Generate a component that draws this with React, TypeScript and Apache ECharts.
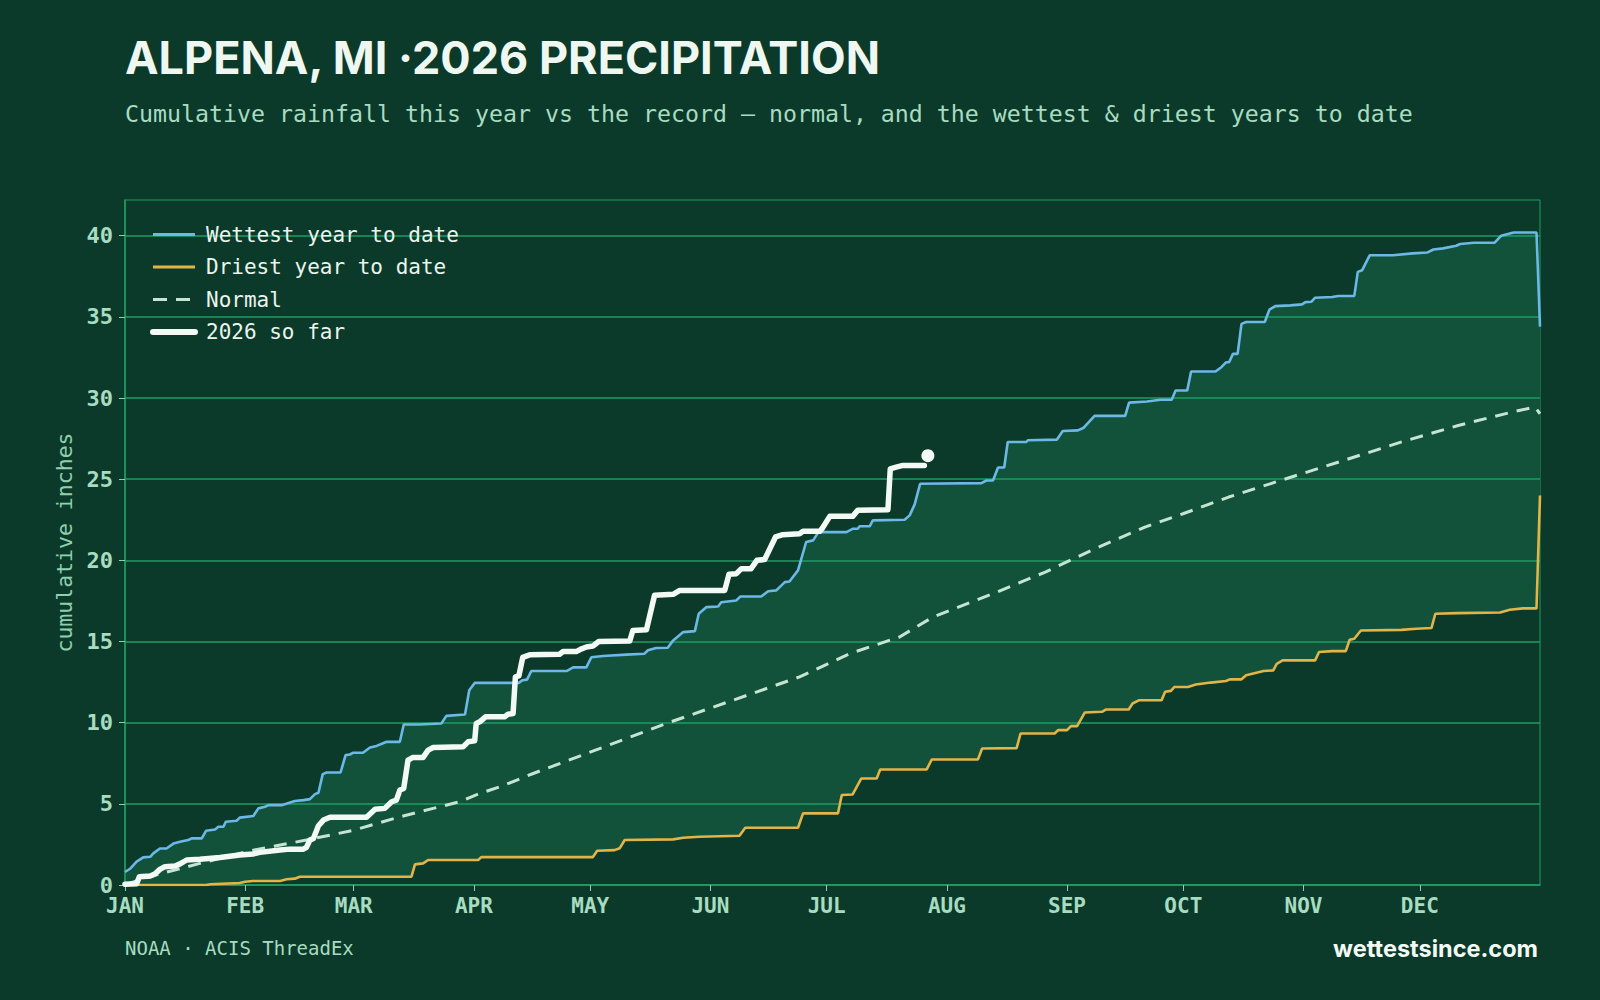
import React, { useEffect, useRef } from "react";
import * as echarts from "echarts";

// ---- data (day of year, cumulative inches) ----
const MONTHS = ["JAN", "FEB", "MAR", "APR", "MAY", "JUN", "JUL", "AUG", "SEP", "OCT", "NOV", "DEC"];
const MONTH_STARTS = [0, 31, 59, 90, 120, 151, 181, 212, 243, 273, 304, 334];
const Y_TICKS = [0, 5, 10, 15, 20, 25, 30, 35, 40];

const WETTEST: number[][] = [
  [0, 0.8], [1.3, 1.0], [3, 1.44], [4.7, 1.7], [6.5, 1.74], [7.3, 1.95], [9, 2.25], [10.7, 2.25], [12.5, 2.55],
  [14.2, 2.66], [16.3, 2.77], [17.2, 2.87], [19.8, 2.87], [20.9, 3.34], [23.2, 3.42], [24.1, 3.59], [25.4, 3.59],
  [26, 3.9], [28.8, 3.96], [29.6, 4.15], [33.1, 4.25], [34.4, 4.72], [36.1, 4.82], [37, 4.92], [40.4, 4.92],
  [43.8, 5.17], [46, 5.23], [47.7, 5.29], [49, 5.6], [49.9, 5.68], [51, 6.83], [52, 6.93], [55.6, 6.93], [56.9, 8.0],
  [58, 8.04], [58.9, 8.15], [61.4, 8.15], [63.2, 8.47], [64.9, 8.57], [66.4, 8.72], [67.5, 8.82], [70.9, 8.82],
  [71.9, 9.89], [76, 9.89], [81.6, 9.95], [82.9, 10.42], [87.7, 10.5], [88.8, 12.0], [90.2, 12.45], [101.6, 12.45],
  [102.5, 12.61], [103.7, 12.65], [104.8, 13.18], [113.9, 13.18], [115.6, 13.41], [119, 13.41], [120.3, 14.03],
  [123.3, 14.11], [129.3, 14.19], [134, 14.25], [134.9, 14.46], [137, 14.6], [140, 14.62], [141.4, 15.07], [144, 15.58],
  [147, 15.64], [148, 16.71], [150, 17.12], [153, 17.16], [153.8, 17.42], [157.7, 17.53], [158.7, 17.77], [164.1, 17.77],
  [165.9, 18.1], [168, 18.15], [170.2, 18.66], [171.4, 18.7], [173.6, 19.38], [175.7, 21.13], [177.5, 21.23],
  [178.7, 21.68], [179.2, 21.74], [186.1, 21.74], [187.8, 21.95], [189, 21.95], [189.5, 22.1], [192.1, 22.1],
  [192.9, 22.46], [201.1, 22.5], [202.4, 22.77], [203.7, 23.45], [205.1, 24.72], [220.9, 24.76], [222.2, 24.92],
  [223.9, 24.92], [225.2, 25.72], [226.8, 25.72], [227.7, 27.29], [232.5, 27.29], [232.9, 27.4], [240.4, 27.44],
  [241.9, 27.97], [245.8, 28.01], [247.3, 28.17], [250.1, 28.9], [258, 28.9], [259, 29.72], [263.6, 29.79],
  [267.1, 29.89], [270, 29.89], [271, 30.46], [274, 30.46], [275, 31.63], [281.3, 31.63], [282.8, 31.9], [284, 32.2],
  [284.8, 32.2], [285.8, 32.72], [287, 32.72], [288, 34.57], [289.2, 34.68], [294, 34.68], [295.2, 35.44],
  [296.7, 35.66], [300.6, 35.71], [303.6, 35.77], [304.5, 35.91], [306, 35.93], [307, 36.18], [311.4, 36.22],
  [312.9, 36.29], [317.1, 36.29], [318, 37.77], [319.1, 37.87], [321.1, 38.8], [327.1, 38.8], [332.1, 38.91],
  [336, 38.97], [337.5, 39.15], [340, 39.22], [343.4, 39.38], [344.4, 39.49], [347.9, 39.57], [353.3, 39.57],
  [355, 40.0], [358.2, 40.2], [364.1, 40.2], [365, 34.4],
];

const DRIEST: number[][] = [
  [0, 0], [21, 0], [22, 0.05], [29.6, 0.12], [31, 0.2], [33, 0.25], [40, 0.25], [41.7, 0.35], [43.8, 0.39],
  [45.1, 0.51], [73.9, 0.51], [74.8, 1.27], [76.9, 1.33], [78.2, 1.54], [91.1, 1.54], [91.9, 1.72], [120.7, 1.72],
  [121.8, 2.11], [126.3, 2.15], [127.6, 2.26], [128.9, 2.77], [141.4, 2.81], [144, 2.91], [148.2, 2.97], [158.5, 3.03],
  [160, 3.53], [173.6, 3.53], [174.9, 4.41], [183.9, 4.41], [184.9, 5.54], [187.7, 5.58], [189.9, 6.56], [193.9, 6.56],
  [194.8, 7.12], [206.8, 7.12], [208.1, 7.73], [220, 7.73], [221.1, 8.41], [230, 8.43], [231, 9.33], [239.8, 9.33],
  [240.7, 9.54], [243, 9.54], [244, 9.79], [245.6, 9.79], [247.6, 10.63], [252, 10.67], [253, 10.81], [258.9, 10.81],
  [259.9, 11.18], [261.5, 11.38], [267.4, 11.38], [268.3, 11.9], [269.8, 11.96], [270.7, 12.2], [274.2, 12.2],
  [276.2, 12.35], [280.1, 12.47], [284, 12.57], [285, 12.67], [288, 12.67], [289.2, 12.92], [293.7, 13.18],
  [296.2, 13.22], [297.1, 13.63], [298.6, 13.84], [307, 13.84], [308, 14.35], [311.4, 14.41], [314.9, 14.41],
  [315.9, 15.11], [317.1, 15.17], [318.8, 15.68], [329.2, 15.72], [333.1, 15.79], [337, 15.83], [338, 16.71],
  [343.9, 16.75], [354.7, 16.79], [357.2, 16.96], [360.6, 17.04], [364.1, 17.04], [365, 24.0],
];

const NORMAL: number[][] = [
  [0, 0], [4.7, 0.41], [19.3, 1.33], [33.1, 2.15], [46.8, 2.77], [59.1, 3.38], [70.9, 4.2], [79.5, 4.72],
  [86.4, 5.13], [91.5, 5.64], [96.7, 6.05], [105.3, 6.87], [122.4, 8.4], [139.6, 9.95], [156.8, 11.38],
  [174, 12.82], [186.9, 14.25], [199.8, 15.28], [208.4, 16.51], [223.9, 17.95], [237.4, 19.28], [250.2, 20.72],
  [263.1, 22.05], [272.9, 22.87], [284.7, 23.9], [299.5, 25.03], [314.3, 26.15], [329.1, 27.28], [343.9, 28.31],
  [358.7, 29.19], [363.7, 29.44], [365, 29.03],
];

const YEAR_2026: number[][] = [
  [0, 0.05], [3, 0.08], [3.7, 0.51], [6.5, 0.55], [7.7, 0.68], [9, 0.96], [10.3, 1.13], [12.9, 1.17], [14.2, 1.3],
  [15.9, 1.54], [19.3, 1.58], [24.5, 1.7], [29.6, 1.85], [33, 1.91], [34.8, 2.01], [40, 2.15], [42.5, 2.21], [46, 2.21],
  [46.8, 2.32], [47.7, 2.77], [48.6, 2.87], [49.9, 3.65], [51.2, 4.0], [52.9, 4.17], [62.3, 4.17], [64.5, 4.66],
  [67, 4.72], [68.8, 5.13], [70, 5.23], [70.9, 5.85], [71.9, 5.95], [73, 7.69], [74.3, 7.86], [76.9, 7.86],
  [78.2, 8.31], [79.5, 8.47], [87.2, 8.51], [88.5, 8.82], [90.2, 8.88], [90.6, 9.95], [91.5, 10.05], [93, 10.36],
  [97.9, 10.36], [98.8, 10.52], [100.1, 10.56], [100.7, 12.82], [101.6, 12.88], [102.6, 14.02], [104.4, 14.18],
  [112.1, 14.22], [113, 14.38], [116.4, 14.38], [117.8, 14.55], [119, 14.66], [120.7, 14.72], [122.2, 15.0],
  [130.2, 15.03], [131, 15.68], [134.5, 15.72], [136.6, 17.85], [141.4, 17.91], [143.1, 18.15], [154.7, 18.15],
  [155.8, 19.14], [157.7, 19.18], [159, 19.49], [161.5, 19.49], [163, 20.0], [165, 20.05], [167.8, 21.44],
  [169.7, 21.58], [174, 21.64], [174.9, 21.79], [179.2, 21.79], [179.8, 21.95], [181.8, 22.71], [187.7, 22.71],
  [189, 23.08], [196.8, 23.12], [197.4, 25.64], [198.9, 25.74], [200.7, 25.85], [206.2, 25.85],
];

const TODAY_POINT: number[][] = [[207.1, 26.45]];

// ---- styling ----
const BG = "#0b3a2a";
const BAND = "#12523b";
const GRID = "#1e9c63";
const LABEL = "#a8dcc0";
const WHITE = "#f3faf5";
const MONO = "'DejaVu Sans Mono', monospace";
const SANS = "Inter, 'Noto Sans', sans-serif";

const hideSymbol = { opacity: 0, color: "transparent", borderWidth: 0 };

export default function App() {
  const ref = useRef<HTMLDivElement>(null);

  useEffect(() => {
    if (!ref.current) return;
    const chart = echarts.init(ref.current, undefined, { renderer: "svg" });

    const option: any = {
      animation: false,
      backgroundColor: BG,
      grid: { left: 125, right: 60, top: 200, bottom: 115, show: true, borderColor: GRID, borderWidth: 1, containLabel: false },
      graphic: [
        { type: "text", left: 125, top: 35, z: 10,
          style: { text: "ALPENA, MI ·2026 PRECIPITATION", fill: "#eef8f1", font: `700 45px ${SANS}` } },
        { type: "text", left: 125, top: 102, z: 10,
          style: { text: "Cumulative rainfall this year vs the record — normal, and the wettest & driest years to date", fill: LABEL, font: `400 23.25px ${MONO}` } },
        { type: "text", left: 125, top: 938, z: 10,
          style: { text: "NOAA · ACIS ThreadEx", fill: LABEL, font: `400 19px ${MONO}` } },
        { type: "text", right: 62, top: 936, z: 10,
          style: { text: "wettestsince.com", fill: WHITE, font: `700 23.5px ${SANS}` } },
      ],
      legend: {
        left: 150, top: 224, orient: "vertical", padding: 0, itemGap: 11.5, itemWidth: 42, itemHeight: 14,
        textStyle: { color: "#eaf5ee", fontFamily: MONO, fontSize: 21, padding: [0, 0, 0, 6] },
        data: [
          { name: "Wettest year to date", itemStyle: hideSymbol, lineStyle: { width: 3 } },
          { name: "Driest year to date", itemStyle: hideSymbol, lineStyle: { width: 3 } },
          { name: "Normal", itemStyle: hideSymbol, lineStyle: { width: 3, type: [14, 9] } },
          { name: "2026 so far", itemStyle: hideSymbol, lineStyle: { width: 6, cap: "round" } },
        ],
      },
      xAxis: {
        type: "value", min: 0, max: 365, z: 1,
        axisLine: { show: true, lineStyle: { color: GRID, width: 1.5 } },
        axisTick: { show: true, customValues: MONTH_STARTS, length: 6, lineStyle: { color: "#8fcfad" } },
        axisLabel: {
          customValues: MONTH_STARTS, color: LABEL, fontFamily: MONO, fontWeight: "bold", fontSize: 21, margin: 10,
          formatter: (v: number) => MONTHS[MONTH_STARTS.indexOf(Math.round(v))] ?? "",
        },
        splitLine: { show: false },
      },
      yAxis: {
        type: "value", min: 0, max: 42.2, interval: 5, z: 1,
        name: "cumulative inches", nameLocation: "middle", nameGap: 47,
        nameTextStyle: { color: "#8fcfad", fontFamily: MONO, fontSize: 21.5 },
        axisLine: { show: true, lineStyle: { color: GRID, width: 1.5 } },
        axisTick: { show: true, customValues: Y_TICKS, length: 6, lineStyle: { color: "#8fcfad" } },
        axisLabel: { customValues: Y_TICKS, color: LABEL, fontFamily: MONO, fontWeight: "bold", fontSize: 22, margin: 12 },
        splitLine: { show: true, lineStyle: { color: GRID, width: 1.5 } },
      },
      series: [
        {
          type: "custom", name: "band", z: 0, silent: true, data: [[0, 0]],
          renderItem: (_p: any, api: any) => {
            const pts: number[][] = [];
            WETTEST.forEach((d) => pts.push(api.coord(d)));
            for (let i = DRIEST.length - 1; i >= 0; i--) pts.push(api.coord(DRIEST[i]));
            return { type: "polygon", shape: { points: pts }, style: { fill: BAND } };
          },
        },
        { type: "line", name: "Wettest year to date", data: WETTEST, symbol: "none", z: 3,
          lineStyle: { color: "#6cb8e6", width: 2.6 }, itemStyle: { color: "#6cb8e6" } },
        { type: "line", name: "Driest year to date", data: DRIEST, symbol: "none", z: 3,
          lineStyle: { color: "#e3b447", width: 2.6 }, itemStyle: { color: "#e3b447" } },
        { type: "line", name: "Normal", data: NORMAL, symbol: "none", z: 3,
          lineStyle: { color: "#c6e4d2", width: 3, type: [13, 9] }, itemStyle: { color: "#c6e4d2" } },
        { type: "line", name: "2026 so far", data: YEAR_2026, symbol: "none", z: 4,
          lineStyle: { color: WHITE, width: 5.5, cap: "round", join: "round" }, itemStyle: { color: WHITE } },
        { type: "scatter", name: "today", data: TODAY_POINT, symbolSize: 13, z: 5, silent: true,
          itemStyle: { color: WHITE, opacity: 1 } },
      ],
    };

    chart.setOption(option);
    return () => chart.dispose();
  }, []);

  return (
    <div
      ref={ref}
      style={{ position: "fixed", left: 0, top: 0, width: 1600, height: 1000 }}
    />
  );
}
